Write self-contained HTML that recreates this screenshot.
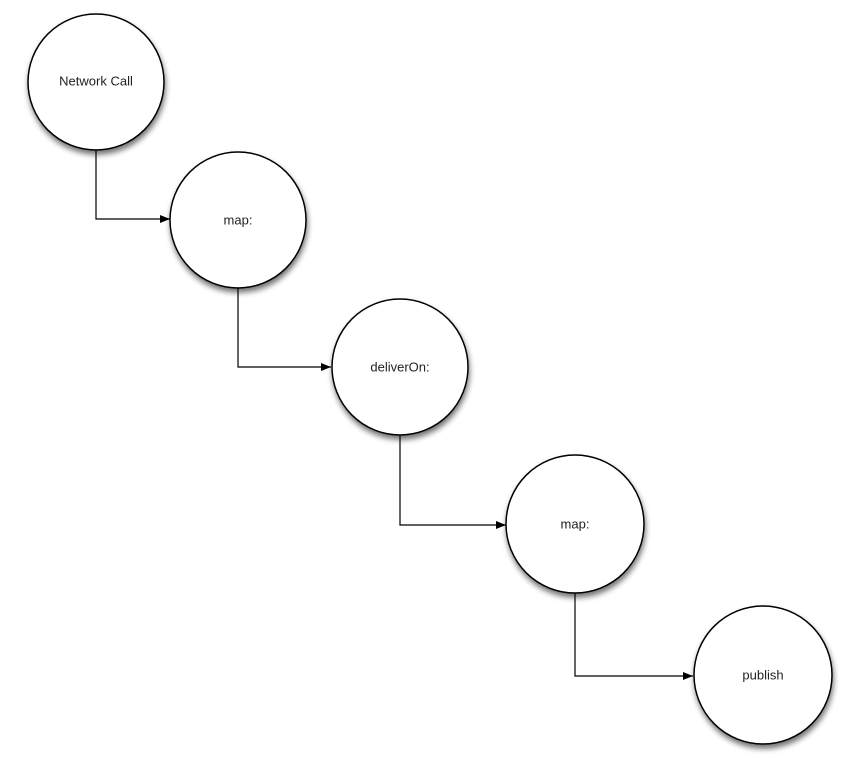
<!DOCTYPE html>
<html><head><style>body{margin:0;background:#fff}svg{display:block}</style></head>
<body>
<svg width="863" height="763" xmlns="http://www.w3.org/2000/svg">
<defs>
<filter id="s" x="-30%" y="-30%" width="160%" height="160%"><feGaussianBlur in="SourceAlpha" stdDeviation="3"/><feOffset dx="1" dy="4"/><feComponentTransfer><feFuncA type="linear" slope="0.55"/></feComponentTransfer><feMerge><feMergeNode/><feMergeNode in="SourceGraphic"/></feMerge></filter>
<marker id="a" markerWidth="10" markerHeight="8" refX="10" refY="4" orient="auto" markerUnits="userSpaceOnUse"><path d="M0,0 L10,4 L0,8 z" fill="#000"/></marker>
</defs>
<g fill="none" stroke="#000" stroke-width="1.2">
<path d="M96,150 V219 H170" marker-end="url(#a)"/>
<path d="M238,288 V367 H331" marker-end="url(#a)"/>
<path d="M400,435 V525 H506" marker-end="url(#a)"/>
<path d="M575,593 V676 H693" marker-end="url(#a)"/>
</g>
<g fill="#fff" stroke="#000" stroke-width="1.5" filter="url(#s)">
<circle cx="96" cy="82" r="68"/>
<circle cx="238" cy="220" r="68"/>
<circle cx="400" cy="367" r="68"/>
<circle cx="575" cy="524" r="69"/>
<circle cx="763" cy="675" r="69"/>
</g>
<g font-family="Liberation Sans, sans-serif" font-size="13" fill="#222" text-anchor="middle" dominant-baseline="middle">
<text x="96" y="82">Network Call</text>
<text x="238" y="221">map:</text>
<text x="400" y="368">deliverOn:</text>
<text x="575" y="525">map:</text>
<text x="763" y="676">publish</text>
</g>
</svg>
</body></html>
